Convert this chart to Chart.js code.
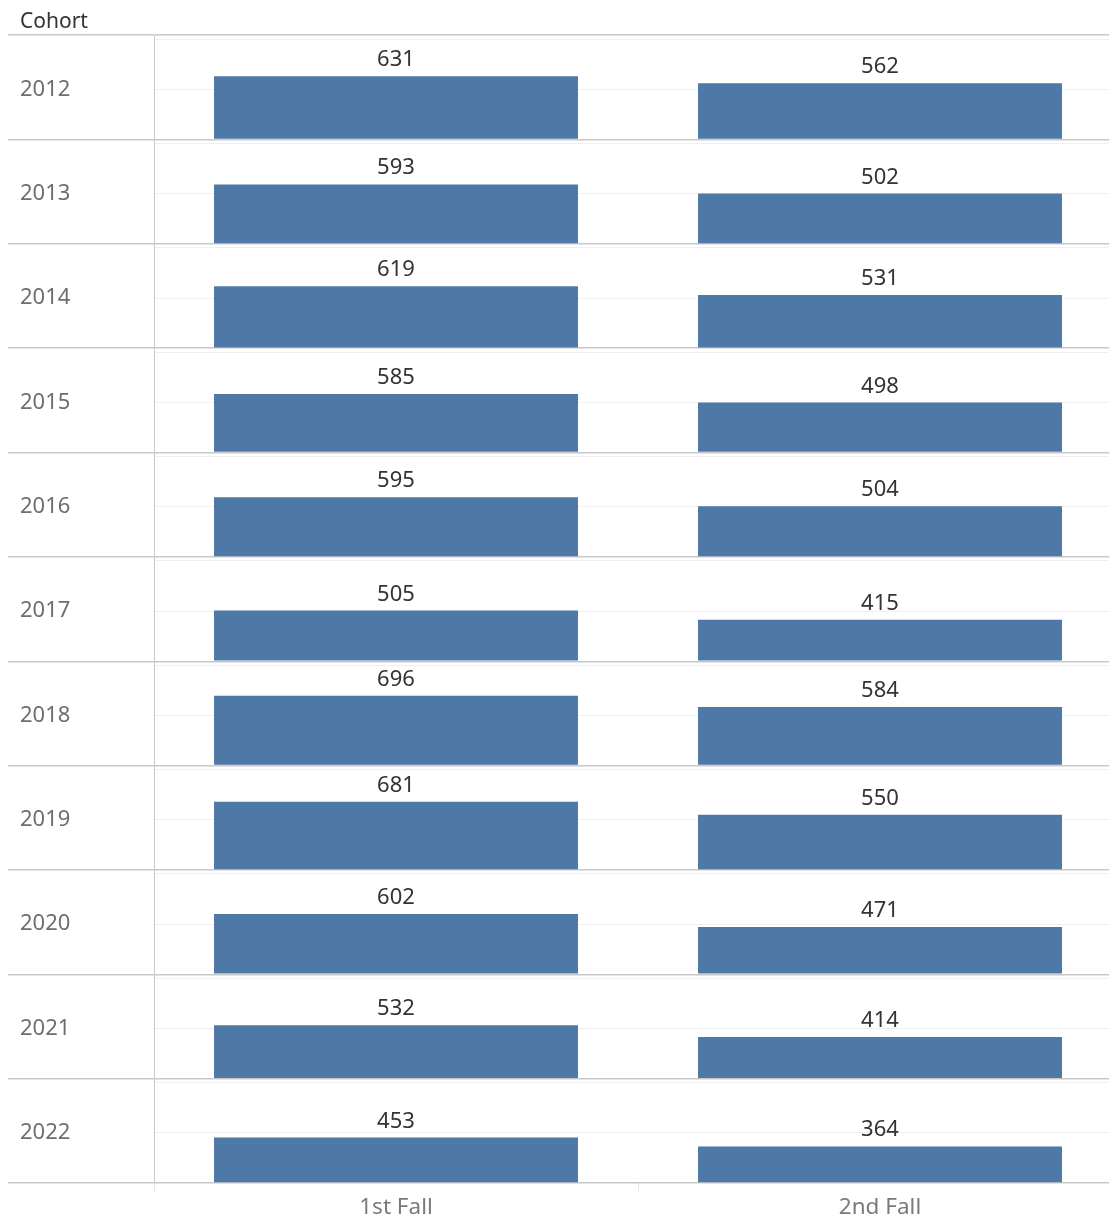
<!DOCTYPE html>
<html>
<head>
<meta charset="utf-8">
<script src="https://cdn.jsdelivr.net/npm/chart.js@4/dist/chart.umd.min.js"></script>
<style>
  html, body { margin: 0; padding: 0; overflow: hidden; background: #fff; }
</style>
</head>
<body>
<canvas id="cohortChart" width="1122" height="1220"></canvas>
<script>
// Données
const cohorts = ['2012', '2013', '2014', '2015', '2016', '2017', '2018', '2019', '2020', '2021', '2022'];
const terms = ['1st Fall', '2nd Fall'];
const firstFall = [631, 593, 619, 585, 595, 505, 696, 681, 602, 532, 453];
const secondFall = [562, 502, 531, 498, 504, 415, 584, 550, 471, 414, 364];
const gridTicks = [0, 500, 1000];
const axisMax = 1040;

const sepColor = '#c8c8c8';
const faintColor = '#efefef';
const fontFamily = '"Noto Sans", sans-serif';

// une rangée (axe y empilé) par cohorte
const scales = {
    x: {
        type: 'category',
        labels: terms,
        afterFit: (scale) => { scale.height = 37; },
        grid: { offset: true, drawOnChartArea: false, drawTicks: true, tickLength: 8, color: '#e3e3e3' },
        border: { display: false },
        ticks: { color: '#7a7a7a', font: { family: fontFamily, size: 22.5 }, padding: 3.5 },
    },
};

cohorts.forEach((cohort, i) => {
    const isEdge = v => v === 0 || v === axisMax;
    scales['y' + i] = {
        type: 'linear',
        position: 'left',
        stack: 'cohort',
        stackWeight: 1,
        weight: cohorts.length - i,
        min: 0,
        max: axisMax,
        afterBuildTicks: (scale) => {
            const values = i === 0 ? gridTicks.concat([axisMax]) : gridTicks;
            scale.ticks = values.map(v => ({ value: v }));
        },
        afterFit: (scale) => { scale.width = 134; },
        grid: {
            color: (ctx) => isEdge(ctx.tick.value) ? sepColor : faintColor,
            lineWidth: (ctx) => isEdge(ctx.tick.value) ? 1.5 : 1,
            tickColor: (ctx) => isEdge(ctx.tick.value) ? sepColor : 'rgba(0,0,0,0)',
            tickLength: 146,
            drawTicks: true,
        },
        border: { display: true, color: sepColor, width: 1 },
        ticks: {
            callback: (value) => value === 500 ? cohort : '',
            crossAlign: 'far',
            color: '#6e6e6e',
            font: { family: fontFamily, size: 22 },
            padding: 0,
            autoSkip: false,
        },
    };
});

// étiquettes de valeur au-dessus des barres
const valueLabels = {
    id: 'valueLabels',
    afterDatasetsDraw(chart) {
        const ctx = chart.ctx;
        ctx.save();
        ctx.font = '22px ' + fontFamily;
        ctx.fillStyle = '#333333';
        ctx.textAlign = 'center';
        ctx.textBaseline = 'alphabetic';
        chart.data.datasets.forEach((ds, i) => {
            chart.getDatasetMeta(i).data.forEach((bar, j) => {
                ctx.fillText(ds.data[j], bar.x, bar.y - 10);
            });
        });
        ctx.restore();
    },
};

const ctx = document.getElementById('cohortChart').getContext('2d');
new Chart(ctx, {
    type: 'bar',
    data: {
        labels: terms,
        datasets: cohorts.map((cohort, i) => ({
            label: cohort,
            data: [firstFall[i], secondFall[i]],
            yAxisID: 'y' + i,
            backgroundColor: '#4e79a7',
            grouped: false,
            categoryPercentage: 1,
            barPercentage: 0.752,
        })),
    },
    options: {
        responsive: false,
        animation: false,
        layout: { padding: { left: 20, right: 0, top: 0, bottom: 0 } },
        plugins: {
            legend: { display: false },
            tooltip: { enabled: false },
            title: {
                display: true,
                text: 'Cohort',
                align: 'start',
                color: '#333333',
                font: { family: fontFamily, size: 21, weight: 'normal', lineHeight: 1.2 },
                padding: { top: 9, bottom: 1 },
            },
        },
        scales: scales,
    },
    plugins: [valueLabels],
});
</script>
</body>
</html>
